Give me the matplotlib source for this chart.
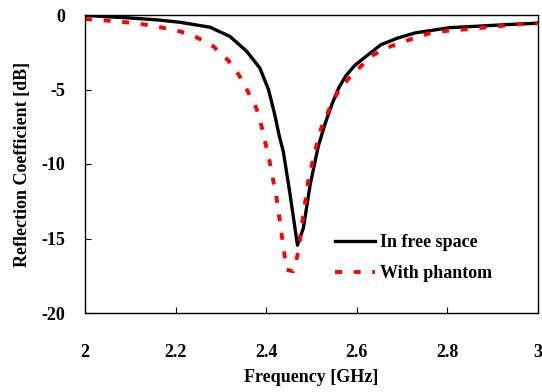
import numpy as np
import matplotlib
matplotlib.use('agg')
import matplotlib.pyplot as plt

# data (GHz, dB)
f_free = [2.0, 2.04, 2.10, 2.16, 2.21, 2.276, 2.32, 2.357, 2.386, 2.405, 2.419, 2.428,
          2.438, 2.453, 2.469, 2.482, 2.497, 2.515, 2.53, 2.545, 2.56, 2.576, 2.595,
          2.614, 2.653, 2.69, 2.729, 2.805, 2.88, 2.94, 3.0]
s11_free = [-0.02, -0.1, -0.2, -0.33, -0.49, -0.82, -1.44, -2.44, -3.56, -5.0, -6.7, -8.0,
            -9.2, -12.1, -15.45, -14.3, -11.4, -8.8, -7.3, -6.0, -4.9, -4.07, -3.4,
            -2.93, -2.0, -1.55, -1.2, -0.85, -0.73, -0.63, -0.55]

f_ph = [2.0, 2.06, 2.117, 2.163, 2.21, 2.243, 2.283, 2.316, 2.34, 2.36, 2.379, 2.39,
        2.408, 2.423, 2.434, 2.445, 2.46, 2.471, 2.482, 2.493, 2.508, 2.522,
        2.538, 2.561, 2.584, 2.607, 2.637, 2.675, 2.717, 2.759, 2.797, 2.84, 2.88,
        2.92, 2.96, 3.0]
s11_ph = [-0.27, -0.4, -0.57, -0.8, -1.1, -1.44, -2.1, -3.04, -4.04, -5.16, -6.3, -7.5,
          -9.9, -12.3, -14.7, -17.1, -17.2, -15.9, -13.4, -11.1, -9.1, -7.55,
          -6.4, -5.0, -4.2, -3.5, -2.67, -2.1, -1.65, -1.24, -1.07, -0.96, -0.85,
          -0.73, -0.62, -0.55]

plt.rcParams['font.family'] = 'Liberation Serif'
plt.rcParams['font.weight'] = 'bold'
plt.rcParams['font.size'] = 13
plt.rcParams['axes.unicode_minus'] = False

fig = plt.figure(figsize=(5.42, 3.92), dpi=100)
ax = fig.add_axes([85 / 542, 1 - 313 / 392, (538 - 85) / 542, (313 - 15) / 392])

ax.plot(f_free, s11_free, color='black', lw=2.4, label='In free space')
ax.plot(f_ph, s11_ph, color='red', lw=2.8, dashes=(1.8, 3.0), label='With phantom')

ax.set_xlim(2, 3)
ax.set_ylim(-20, 0)
ax.set_xticks(np.arange(2, 3.01, 0.2))
ax.set_xticklabels(['2', '2.2', '2.4', '2.6', '2.8', '3'])
ax.set_yticks([0, -5, -10, -15, -20])
ax.tick_params(axis='x', direction='in', length=4, pad=22, labelsize=13)
ax.tick_params(axis='y', direction='in', length=4, pad=14, labelsize=13)
for lab in ax.get_xticklabels() + ax.get_yticklabels():
    lab.set_fontweight('bold')
for s in ax.spines.values():
    s.set_linewidth(1.0)

ax.set_xlabel('Frequency [GHz]', fontweight='bold', fontsize=13, labelpad=6)
ax.set_ylabel('Reflection Coefficient [dB]', fontweight='bold', fontsize=13, labelpad=8)

ax.legend(loc='lower right', bbox_to_anchor=(0.935, 0.05), frameon=False,
          handlelength=2.2, handletextpad=0.3, labelspacing=0.75,
          prop={'family': 'Liberation Serif', 'weight': 'bold', 'size': 13})

fig.savefig('out.png', dpi=100)
